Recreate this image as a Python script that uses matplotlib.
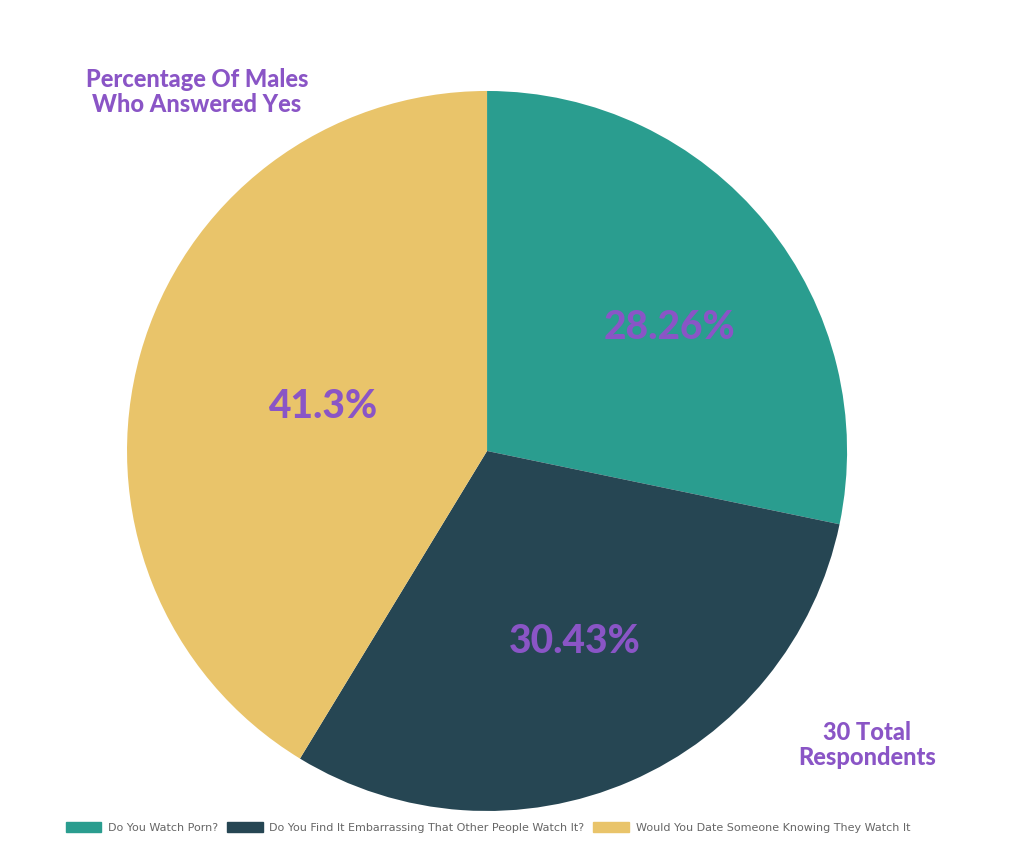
import matplotlib
matplotlib.use("Agg")
import matplotlib.pyplot as plt
import matplotlib.patches as mpatches
import numpy as np

categories = ["Do You Watch Porn?",
              "Do You Find It Embarrassing That Other People Watch It?",
              "Would You Date Someone Knowing They Watch It"]
values = [28.26, 30.43, 41.3]
value_labels = ["28.26%", "30.43%", "41.3%"]
colors = ["#2A9D8F", "#264653", "#E9C46A"]
purple = "#8A55C6"

fig = plt.figure(figsize=(10.26, 8.54), dpi=100)
ax = fig.add_axes([0.1238, 0.0492, 0.7018, 0.8431])
wedges, _ = ax.pie(values, colors=colors, startangle=90, counterclock=False,
                   radius=1.0, wedgeprops=dict(linewidth=0))
ax.set_xlim(-1, 1)
ax.set_ylim(-1, 1)
ax.set_aspect("auto")
ax.axis("off")

# label placement: radial factor and angular offset per wedge
rad = [0.615, 0.58, 0.475]
offs = [-4.8, 1.5, 0.3]
for w, lab, r, o in zip(wedges, value_labels, rad, offs):
    ang = np.deg2rad((w.theta1 + w.theta2) / 2 + o)
    ax.text(r * np.cos(ang), r * np.sin(ang), lab, ha="center", va="center",
            fontsize=28, fontweight="black", color=purple, family=["Lato", "DejaVu Sans"])

fig.text(197 / 1026, 1 - 92 / 854, "Percentage Of Males\nWho Answered Yes",
         ha="center", va="center", fontsize=17, fontweight="black", color=purple,
         family=["Lato", "DejaVu Sans"], linespacing=1.1)
fig.text(867 / 1026, 1 - 745 / 854, "30 Total\nRespondents",
         ha="center", va="center", fontsize=17, fontweight="black", color=purple,
         family=["Lato", "DejaVu Sans"], linespacing=1.1)

handles = [mpatches.Patch(color=c, label=l) for c, l in zip(colors, categories)]
leg = fig.legend(handles=handles, loc="center", bbox_to_anchor=(488 / 1026, 1 - 828 / 854),
                 ncol=3, frameon=False, fontsize=8, handlelength=3.2, handleheight=1.0,
                 columnspacing=0.8, handletextpad=0.6,
                 prop=dict(family=["Liberation Sans Narrow", "DejaVu Sans"], size=8))
for t in leg.get_texts():
    t.set_color("#666666")

fig.savefig("out.png", dpi=100, facecolor="white")
